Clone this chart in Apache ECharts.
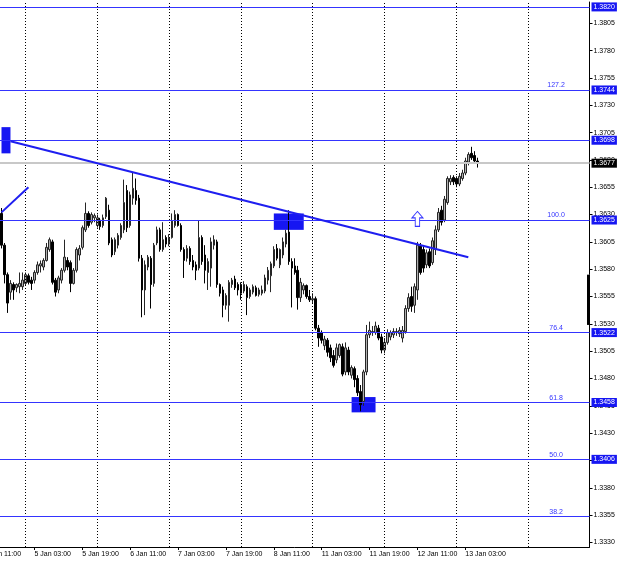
<!DOCTYPE html>
<html><head><meta charset="utf-8">
<script src="https://cdn.jsdelivr.net/npm/echarts@6/dist/echarts.min.js"></script>
<style>html,body{margin:0;padding:0;background:#fff}#c{width:620px;height:563px}</style>
</head><body><div id="c"></div>
<script>
// Trading sessions (day, first hour, last hour) for the hourly category axis
const sessions = [['4 Jan',16,23],['5 Jan',0,23],['6 Jan',0,23],['7 Jan',0,23],['8 Jan',0,23],['11 Jan',0,23],['12 Jan',0,23],['13 Jan',0,23],['14 Jan',0,20]];
const opens = [1.3631,1.3602,1.3575,1.3559,1.3566,1.3563,1.3564,1.3564,1.3567,1.3574,
1.3570,1.3570,1.3577,1.3583,1.3582,1.3588,1.3598,1.3605,1.3570,1.3561,
1.3570,1.3579,1.3588,1.3586,1.3567,1.3579,1.3593,1.3600,1.3616,1.3631,
1.3623,1.3627,1.3620,1.3625,1.3620,1.3628,1.3634,1.3607,1.3596,1.3602,
1.3609,1.3616,1.3652,1.3620,1.3645,1.3652,1.3645,1.3590,1.3561,1.3582,
1.3590,1.3567,1.3604,1.3616,1.3598,1.3609,1.3603,1.3609,1.3620,1.3630,
1.3620,1.3598,1.3590,1.3599,1.3588,1.3584,1.3581,1.3609,1.3593,1.3577,
1.3581,1.3602,1.3605,1.3566,1.3561,1.3547,1.3547,1.3566,1.3571,1.3566,
1.3566,1.3560,1.3564,1.3555,1.3559,1.3563,1.3557,1.3558,1.3560,1.3570,
1.3574,1.3583,1.3599,1.3584,1.3593,1.3603,1.3614,1.3587,1.3583,1.3579,
1.3554,1.3561,1.3565,1.3555,1.3552,1.3553,1.3526,1.3522,1.3510,1.3515,
1.3508,1.3501,1.3497,1.3501,1.3509,1.3486,1.3506,1.3483,1.3489,1.3480,
1.3468,1.3459,1.3486,1.3520,1.3522,1.3522,1.3526,1.3518,1.3506,1.3513,
1.3518,1.3520,1.3522,1.3521,1.3517,1.3523,1.3544,1.3555,1.3547,1.3561,
1.3601,1.3598,1.3584,1.3596,1.3586,1.3598,1.3616,1.3634,1.3625,1.3641,
1.3660,1.3664,1.3663,1.3658,1.3663,1.3668,1.3678,1.3686,1.3684,1.3679];
const closes = [1.3602,1.3575,1.3549,1.3567,1.3561,1.3566,1.3567,1.3570,1.3575,1.3568,
1.3567,1.3577,1.3584,1.3585,1.3588,1.3600,1.3607,1.3568,1.3559,1.3572,
1.3579,1.3591,1.3582,1.3567,1.3579,1.3598,1.3599,1.3618,1.3631,1.3620,
1.3630,1.3629,1.3627,1.3619,1.3627,1.3645,1.3604,1.3593,1.3607,1.3611,
1.3620,1.3641,1.3618,1.3648,1.3654,1.3643,1.3590,1.3561,1.3584,1.3591,
1.3566,1.3602,1.3616,1.3598,1.3607,1.3603,1.3609,1.3624,1.3630,1.3620,
1.3598,1.3588,1.3599,1.3587,1.3582,1.3579,1.3609,1.3587,1.3579,1.3587,
1.3605,1.3607,1.3566,1.3558,1.3547,1.3556,1.3568,1.3570,1.3563,1.3561,
1.3558,1.3566,1.3554,1.3561,1.3564,1.3556,1.3561,1.3561,1.3572,1.3579,
1.3585,1.3598,1.3590,1.3598,1.3605,1.3613,1.3587,1.3581,1.3577,1.3554,
1.3568,1.3565,1.3555,1.3552,1.3553,1.3526,1.3517,1.3515,1.3516,1.3504,
1.3499,1.3492,1.3508,1.3511,1.3484,1.3508,1.3486,1.3490,1.3479,1.3467,
1.3456,1.3486,1.3520,1.3524,1.3523,1.3528,1.3517,1.3506,1.3513,1.3522,
1.3522,1.3523,1.3523,1.3524,1.3524,1.3544,1.3554,1.3546,1.3564,1.3602,
1.3577,1.3581,1.3595,1.3583,1.3606,1.3616,1.3632,1.3623,1.3644,1.3663,
1.3663,1.3660,1.3658,1.3665,1.3668,1.3679,1.3685,1.3682,1.3679,1.3677];
const lows = [1.3599,1.3567,1.3540,1.3552,1.3552,1.3559,1.3558,1.3561,1.3565,1.3566,
1.3561,1.3567,1.3575,1.3577,1.3579,1.3587,1.3596,1.3566,1.3555,1.3558,
1.3567,1.3577,1.3579,1.3559,1.3566,1.3577,1.3588,1.3598,1.3614,1.3618,
1.3621,1.3623,1.3618,1.3616,1.3618,1.3626,1.3602,1.3591,1.3593,1.3599,
1.3607,1.3613,1.3614,1.3618,1.3639,1.3639,1.3587,1.3536,1.3538,1.3579,
1.3544,1.3564,1.3602,1.3596,1.3596,1.3600,1.3601,1.3608,1.3618,1.3619,
1.3596,1.3572,1.3587,1.3584,1.3579,1.3570,1.3579,1.3584,1.3567,1.3561,
1.3564,1.3598,1.3563,1.3555,1.3536,1.3543,1.3532,1.3563,1.3561,1.3556,
1.3552,1.3558,1.3538,1.3553,1.3557,1.3555,1.3555,1.3556,1.3558,1.3566,
1.3559,1.3581,1.3588,1.3581,1.3590,1.3600,1.3584,1.3545,1.3575,1.3543,
1.3550,1.3557,1.3553,1.3550,1.3549,1.3524,1.3509,1.3512,1.3506,1.3500,
1.3495,1.3490,1.3494,1.3499,1.3482,1.3483,1.3483,1.3480,1.3472,1.3464,
1.3450,1.3455,1.3483,1.3517,1.3519,1.3520,1.3515,1.3503,1.3503,1.3511,
1.3515,1.3517,1.3519,1.3518,1.3513,1.3521,1.3541,1.3541,1.3540,1.3552,
1.3575,1.3577,1.3581,1.3581,1.3584,1.3593,1.3614,1.3620,1.3623,1.3639,
1.3657,1.3657,1.3655,1.3656,1.3661,1.3666,1.3675,1.3680,1.3677,1.3673];
const highs = [1.3636,1.3604,1.3577,1.3570,1.3568,1.3567,1.3577,1.3577,1.3577,1.3576,
1.3573,1.3579,1.3587,1.3588,1.3590,1.3604,1.3609,1.3607,1.3572,1.3574,
1.3581,1.3607,1.3591,1.3588,1.3581,1.3600,1.3602,1.3620,1.3641,1.3633,
1.3632,1.3631,1.3630,1.3627,1.3630,1.3646,1.3639,1.3609,1.3609,1.3613,
1.3622,1.3662,1.3657,1.3651,1.3668,1.3663,1.3648,1.3593,1.3588,1.3593,
1.3592,1.3604,1.3619,1.3618,1.3623,1.3611,1.3612,1.3631,1.3634,1.3631,
1.3622,1.3600,1.3602,1.3601,1.3593,1.3587,1.3625,1.3611,1.3602,1.3590,
1.3609,1.3611,1.3607,1.3567,1.3564,1.3558,1.3570,1.3572,1.3574,1.3568,
1.3568,1.3569,1.3566,1.3563,1.3566,1.3565,1.3563,1.3565,1.3575,1.3582,
1.3587,1.3601,1.3603,1.3599,1.3609,1.3616,1.3634,1.3590,1.3590,1.3583,
1.3572,1.3567,1.3566,1.3561,1.3558,1.3555,1.3529,1.3524,1.3519,1.3517,
1.3511,1.3506,1.3512,1.3512,1.3512,1.3513,1.3509,1.3492,1.3491,1.3483,
1.3474,1.3488,1.3529,1.3532,1.3528,1.3532,1.3529,1.3521,1.3517,1.3525,
1.3524,1.3526,1.3526,1.3527,1.3528,1.3547,1.3558,1.3564,1.3567,1.3605,
1.3604,1.3602,1.3598,1.3599,1.3609,1.3620,1.3636,1.3638,1.3647,1.3665,
1.3666,1.3666,1.3665,1.3668,1.3671,1.3682,1.3687,1.3692,1.3688,1.3682];

const tickLabels = ['5 Jan 03:00','5 Jan 19:00','6 Jan 11:00','7 Jan 03:00','7 Jan 19:00','8 Jan 11:00','11 Jan 03:00','11 Jan 19:00','12 Jan 11:00','13 Jan 03:00'];
const clippedLabel = '4 Jan 11:00';
const priceTicks = [1.3330,1.3355,1.3380,1.3405,1.3430,1.3455,1.3480,1.3505,1.3530,1.3555,1.3580,1.3605,1.3630,1.3655,1.3680,1.3705,1.3730,1.3755,1.3780,1.3805];
const levelPrices = [1.3820,1.3744,1.3698,1.3625,1.3522,1.3458,1.3406,1.3354];
const levelNames  = ['','127.2','','100.0','76.4','61.8','50.0','38.2'];
const levelBoxed  = [true,true,true,true,true,true,true,false];
const levelLabelAt = '14 Jan 09:00';
const lastPrice = 1.3677;
const daySeparators = ['5 Jan 00:00','6 Jan 00:00','7 Jan 00:00','8 Jan 00:00','11 Jan 00:00','12 Jan 00:00','13 Jan 00:00','14 Jan 00:00'];
const trendLine = [['4 Jan 19:00',1.3697],['13 Jan 04:00',1.3591]];
const shortLine = [['4 Jan 16:00',1.3632],['5 Jan 01:00',1.3655]];
const boxes = [
  [['4 Jan 16:00',1.3710],['4 Jan 19:00',1.3686]],
  [['8 Jan 11:00',1.3631],['8 Jan 21:00',1.3616]],
  [['11 Jan 13:00',1.3463],['11 Jan 21:00',1.3449]]
];
const arrowPoint = ['12 Jan 11:00',1.3626];
const axisBar = [['14 Jan 20:00',1.3575],['14 Jan 20:00',1.3529]];

const categories = [];
sessions.forEach(([d,a,b]) => { for (let h = a; h <= b; h++) categories.push(d + ' ' + String(h).padStart(2,'0') + ':00'); });
const candles = opens.map((o,i) => [o, closes[i], lows[i], highs[i]]);

const FONT = 'Liberation Sans';
const BLUE = '#3434ff';
const BOX = '#1616f2';

const levelLines = levelPrices.map((p,i) => ({
  yAxis: p,
  lineStyle: {color: BLUE, width: 1.2, type: 'solid'},
  label: levelBoxed[i] ? {show: true, position: 'end', distance: 2, formatter: p.toFixed(4),
    backgroundColor: BOX, color: '#fff', fontSize: 7, fontFamily: FONT, padding: [1,2,1,2]} : {show: false}
}));

const levelTexts = levelPrices.map((p,i) => ({name: levelNames[i], coord: [levelLabelAt, p]}))
  .filter(d => d.name !== '')
  .map(d => ({...d, symbol: 'rect', symbolSize: 0,
    label: {show: true, position: 'top', distance: 1, offset: [1, 0], formatter: d.name, color: BLUE, fontSize: 7, fontFamily: FONT}}));

const chart = echarts.init(document.getElementById('c'), null, {renderer: 'canvas'});
chart.setOption({
  animation: false,
  backgroundColor: '#fff',
  textStyle: {fontFamily: FONT},
  grid: {left: -1.5, right: 30.5, top: 2, bottom: 16, containLabel: false},
  xAxis: {
    type: 'category', data: categories, boundaryGap: true,
    axisLine: {show: true, lineStyle: {color: '#000', width: 1}},
    axisTick: {show: true, alignWithLabel: true, length: 3, interval: (i, v) => tickLabels.includes(v), lineStyle: {color: '#000'}},
    axisLabel: {interval: (i, v) => tickLabels.includes(v), align: 'left', fontSize: 7, color: '#000', margin: 4, fontFamily: FONT},
    splitLine: {show: false}
  },
  yAxis: {
    type: 'value', position: 'right', min: 1.33258, max: 1.38245,
    axisLine: {show: true, lineStyle: {color: '#000', width: 1}},
    axisTick: {show: true, length: 3, customValues: priceTicks, lineStyle: {color: '#000'}},
    axisLabel: {customValues: priceTicks, formatter: v => v.toFixed(4), fontSize: 7, color: '#000', margin: 4, fontFamily: FONT},
    splitLine: {show: false}
  },
  graphic: [{type: 'text', x: -15, y: 551, style: {text: clippedLabel, fontSize: 7, fill: '#000', fontFamily: FONT}}],
  series: [
    {
      type: 'candlestick', data: candles, barWidth: 2,
      itemStyle: {color: '#b0b0b0', color0: '#000', borderColor: '#262626', borderColor0: '#000', borderWidth: 1},
      markArea: {
        silent: true,
        itemStyle: {color: BOX, opacity: 1},
        data: boxes.map(b => [{coord: b[0]}, {coord: b[1]}])
      },
      markPoint: {
        silent: true,
        data: [{coord: arrowPoint, symbol: 'path://M5,0 L10,6 L7,6 L7,14 L3,14 L3,6 L0,6 Z', symbolSize: [11,15],
          itemStyle: {color: '#fff', borderColor: BLUE, borderWidth: 1}, label: {show: false}},
          ...levelTexts]
      },
      markLine: {
        silent: true, symbol: ['none','none'], animation: false, precision: 4,
        label: {show: false},
        data: [
          ...daySeparators.map(d => ({xAxis: d, lineStyle: {color: '#000', width: 1, type: [1,2]}, label: {show: false}})),
          {yAxis: lastPrice, lineStyle: {color: '#c8c8c8', width: 2, type: 'solid'},
            label: {show: true, position: 'end', distance: 2, formatter: lastPrice.toFixed(4), backgroundColor: '#000', color: '#fff', fontSize: 7, fontFamily: FONT, padding: [1,2,1,2]}},
          ...levelLines,
          [{coord: trendLine[0], lineStyle: {color: '#1e1ef0', width: 2, type: 'solid'}}, {coord: trendLine[1]}],
          [{coord: shortLine[0], lineStyle: {color: '#1e1ef0', width: 2, type: 'solid'}}, {coord: shortLine[1]}],
          [{coord: axisBar[0], lineStyle: {color: '#000', width: 3, type: 'solid'}}, {coord: axisBar[1]}]
        ]
      }
    }
  ]
});
</script>
</body></html>
